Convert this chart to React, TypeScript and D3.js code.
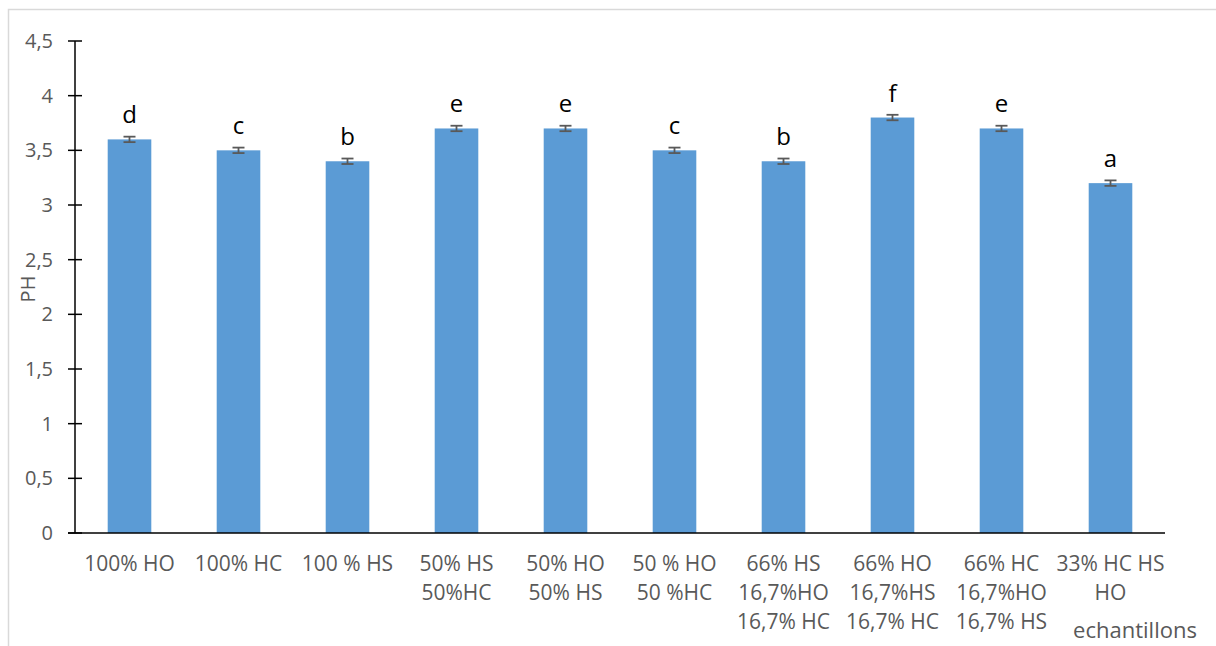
import React from "react";
import * as d3 from "d3";

const categories: string[][] = [
  ["100% HO"],
  ["100% HC"],
  ["100 % HS"],
  ["50% HS", "50%HC"],
  ["50% HO", "50% HS"],
  ["50 % HO", "50 %HC"],
  ["66% HS", "16,7%HO", "16,7% HC"],
  ["66% HO", "16,7%HS", "16,7% HC"],
  ["66% HC", "16,7%HO", "16,7% HS"],
  ["33% HC HS", "HO"],
];
const phValues: number[] = [3.6, 3.5, 3.4, 3.7, 3.7, 3.5, 3.4, 3.8, 3.7, 3.2];
const phErrors: number[] = [0.025, 0.025, 0.025, 0.025, 0.025, 0.025, 0.025, 0.025, 0.025, 0.025];
const groupLetters: string[] = ["d", "c", "b", "e", "e", "c", "b", "f", "e", "a"];
const yTicks: number[] = [0, 0.5, 1, 1.5, 2, 2.5, 3, 3.5, 4, 4.5];
const yTickLabels: string[] = ["0", "0,5", "1", "1,5", "2", "2,5", "3", "3,5", "4", "4,5"];
const yTitle = "PH";
const xTitle = "echantillons";

const W = 1216;
const H = 646;
const FONT = "'Open Sans', 'Noto Sans', sans-serif";
const GREY = "#595959";

export default function App() {
  const ids = categories.map((_, i) => String(i));
  const x = d3.scaleBand<string>().domain(ids).range([75, 1165]).paddingInner(0.6).paddingOuter(0.3);
  const y = d3.scaleLinear().domain([0, 4.5]).range([533, 41]);

  return (
    <svg
      width={W}
      height={H}
      style={{ position: "absolute", left: 0, top: 0, display: "block", background: "#fff" }}
      fontFamily={FONT}
    >
      <rect x={8.5} y={9.5} width={1400} height={800} fill="#fff" stroke="#d9d9d9" strokeWidth={1.5} />

      {/* bars */}
      {phValues.map((v, i) => (
        <rect
          key={"b" + i}
          x={x(ids[i])!}
          y={y(v)}
          width={x.bandwidth()}
          height={y(0) - y(v)}
          fill="#5B9BD5"
        />
      ))}

      {/* error bars */}
      {phValues.map((v, i) => {
        const cx = x(ids[i])! + x.bandwidth() / 2;
        const hi = y(v + phErrors[i]);
        const lo = y(v - phErrors[i]);
        return (
          <g key={"e" + i} stroke={GREY} strokeWidth={1.8}>
            <line x1={cx} x2={cx} y1={hi} y2={lo} />
            <line x1={cx - 6} x2={cx + 6} y1={hi} y2={hi} />
            <line x1={cx - 6} x2={cx + 6} y1={lo} y2={lo} />
          </g>
        );
      })}

      {/* group letters */}
      {phValues.map((v, i) => (
        <text
          key={"l" + i}
          x={x(ids[i])! + x.bandwidth() / 2}
          y={y(v) - 16}
          textAnchor="middle"
          fontSize={24}
          fill="#000"
        >
          {groupLetters[i]}
        </text>
      ))}

      {/* y axis */}
      <line x1={75} x2={75} y1={y(4.5)} y2={y(0)} stroke="#000" strokeWidth={1.5} />
      {yTicks.map((t, i) => (
        <g key={"t" + i}>
          <line x1={68} x2={82} y1={y(t)} y2={y(t)} stroke="#000" strokeWidth={1.5} />
          <text x={53} y={y(t)} dy="0.35em" textAnchor="end" fontSize={20} fill={GREY}>
            {yTickLabels[i]}
          </text>
        </g>
      ))}

      {/* x axis */}
      <line x1={68} x2={1165} y1={y(0)} y2={y(0)} stroke="#000" strokeWidth={1.5} />
      {categories.map((lines, i) => (
        <text
          key={"c" + i}
          x={x(ids[i])! + x.bandwidth() / 2}
          y={571}
          textAnchor="middle"
          fontSize={21}
          fill={GREY}
        >
          {lines.map((ln, j) => (
            <tspan key={j} x={x(ids[i])! + x.bandwidth() / 2} dy={j === 0 ? 0 : 29}>
              {ln}
            </tspan>
          ))}
        </text>
      ))}

      {/* axis titles */}
      <text
        transform={`translate(35, 289) rotate(-90)`}
        textAnchor="middle"
        fontSize={20}
        fill={GREY}
      >
        {yTitle}
      </text>
      <text x={1135} y={638} textAnchor="middle" fontSize={22} fill={GREY}>
        {xTitle}
      </text>
    </svg>
  );
}
